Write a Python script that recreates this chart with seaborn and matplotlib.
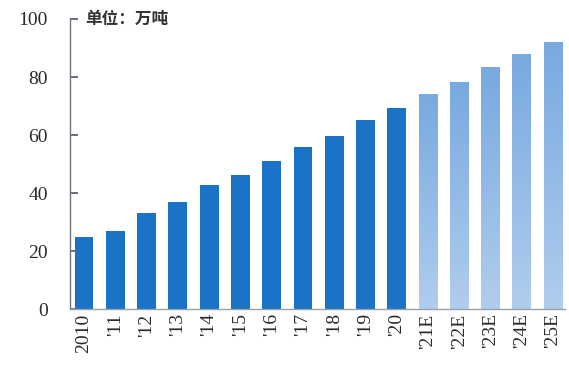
import numpy as np
import pandas as pd
import matplotlib
matplotlib.use("Agg")
import matplotlib.pyplot as plt
import seaborn as sns
from matplotlib.colors import LinearSegmentedColormap

years = ["2010", "'11", "'12", "'13", "'14", "'15", "'16", "'17", "'18", "'19", "'20",
         "'21E", "'22E", "'23E", "'24E", "'25E"]
values = [24.8, 26.9, 33.2, 36.8, 42.8, 46.2, 51.0, 55.9, 59.7, 65.2, 69.3,
          74.1, 78.4, 83.3, 87.9, 92.2]
is_forecast = [y.endswith("E") for y in years]
yticks = [0, 20, 40, 60, 80, 100]
unit_label = "单位：万吨"

sns.set_theme(style="white")
plt.rcParams['font.family'] = ['Liberation Serif', 'DejaVu Serif']

df = pd.DataFrame({"year": years, "value": values})

fig = plt.figure(figsize=(5.69, 3.72), dpi=100)
ax = fig.add_axes([0.123, 0.169, 0.870, 0.780])

hist_color = "#1a73c6"
sns.barplot(data=df, x="year", y="value", ax=ax, color=hist_color,
            width=0.6, saturation=1, order=years)

cmap = LinearSegmentedColormap.from_list("fc", ["#b0cdee", "#78a9df"])
grad = np.linspace(0, 1, 256).reshape(-1, 1)
for patch, fc in zip(ax.patches, is_forecast):
    patch.set_edgecolor("none")
    if fc:
        patch.set_facecolor("none")
        x0, y0 = patch.get_x(), patch.get_y()
        w, h = patch.get_width(), patch.get_height()
        im = ax.imshow(grad, cmap=cmap, origin="lower", aspect="auto",
                       extent=[x0, x0 + w, y0, y0 + h], zorder=2)
        im.set_clip_path(patch)

ax.set_xlim(-0.45, len(years) - 1 + 0.38)
ax.set_ylim(0, 100)
ax.set_yticks(yticks)
ax.set_yticklabels([str(t) for t in yticks], fontsize=14, color="#2a2a2a")
ax.set_xticks(range(len(years)))
ax.set_xticklabels(years, rotation=90, fontsize=14, color="#2a2a2a")
ax.set_xlabel("")
ax.set_ylabel("")

for s in ["top", "right"]:
    ax.spines[s].set_visible(False)
ax.spines["left"].set_color("#6d7580")
ax.spines["left"].set_linewidth(1.0)
ax.spines["bottom"].set_color("#9aa0a8")
ax.spines["bottom"].set_linewidth(1.0)
ax.tick_params(axis="y", which="major", left=True, direction="in", length=6,
               color="#5d6570", width=1.3, pad=16)
ax.tick_params(axis="x", bottom=False, length=0, pad=3)

ax.text(0.03, 1.0, unit_label, transform=ax.transAxes, ha="left", va="center",
        fontsize=12, fontweight="bold", color="#333333",
        family=["Noto Sans CJK SC", "DejaVu Sans"])

fig.savefig("out.png", dpi=100)
